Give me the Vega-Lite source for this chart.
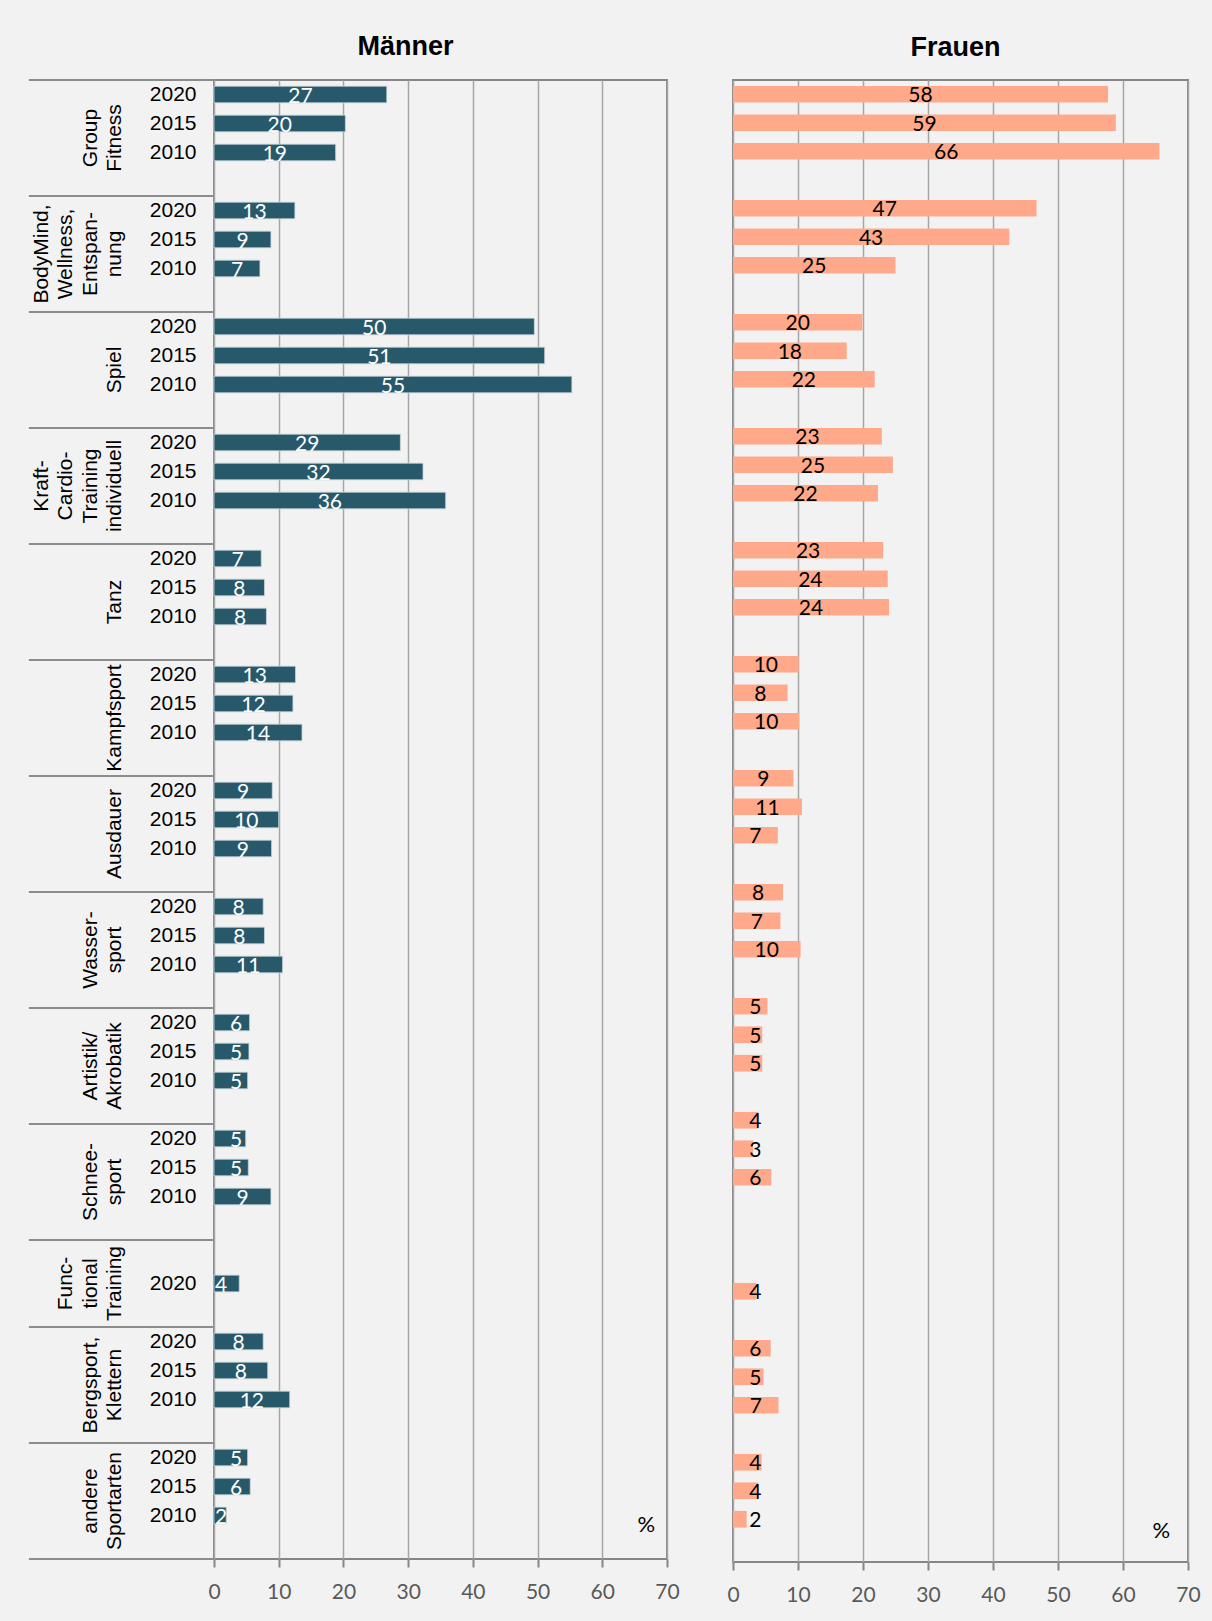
{
  "$schema": "https://vega.github.io/schema/vega-lite/v6.json",
  "background": "#f2f2f2",
  "autosize": {"type": "pad"},
  "padding": {"left": 26, "top": 31, "right": 12, "bottom": 22},
  "bounds": "flush",
  "spacing": 66,
  "datasets": {
    "maenner": [
      {"sport": "Group Fitness", "year": "2020", "slot": "GF 2020", "value": 26.7, "label": "27"},
      {"sport": "Group Fitness", "year": "2015", "slot": "GF 2015", "value": 20.3, "label": "20"},
      {"sport": "Group Fitness", "year": "2010", "slot": "GF 2010", "value": 18.8, "label": "19"},
      {"sport": "BodyMind, Wellness, Entspannung", "year": "2020", "slot": "BM 2020", "value": 12.5, "label": "13"},
      {"sport": "BodyMind, Wellness, Entspannung", "year": "2015", "slot": "BM 2015", "value": 8.8, "label": "9"},
      {"sport": "BodyMind, Wellness, Entspannung", "year": "2010", "slot": "BM 2010", "value": 7.1, "label": "7"},
      {"sport": "Spiel", "year": "2020", "slot": "SP 2020", "value": 49.5, "label": "50"},
      {"sport": "Spiel", "year": "2015", "slot": "SP 2015", "value": 51.1, "label": "51"},
      {"sport": "Spiel", "year": "2010", "slot": "SP 2010", "value": 55.3, "label": "55"},
      {"sport": "Kraft-Cardio-Training individuell", "year": "2020", "slot": "KC 2020", "value": 28.8, "label": "29"},
      {"sport": "Kraft-Cardio-Training individuell", "year": "2015", "slot": "KC 2015", "value": 32.3, "label": "32"},
      {"sport": "Kraft-Cardio-Training individuell", "year": "2010", "slot": "KC 2010", "value": 35.8, "label": "36"},
      {"sport": "Tanz", "year": "2020", "slot": "TZ 2020", "value": 7.3, "label": "7"},
      {"sport": "Tanz", "year": "2015", "slot": "TZ 2015", "value": 7.8, "label": "8"},
      {"sport": "Tanz", "year": "2010", "slot": "TZ 2010", "value": 8.1, "label": "8"},
      {"sport": "Kampfsport", "year": "2020", "slot": "KS 2020", "value": 12.6, "label": "13"},
      {"sport": "Kampfsport", "year": "2015", "slot": "KS 2015", "value": 12.2, "label": "12"},
      {"sport": "Kampfsport", "year": "2010", "slot": "KS 2010", "value": 13.6, "label": "14"},
      {"sport": "Ausdauer", "year": "2020", "slot": "AD 2020", "value": 9.0, "label": "9"},
      {"sport": "Ausdauer", "year": "2015", "slot": "AD 2015", "value": 10.0, "label": "10"},
      {"sport": "Ausdauer", "year": "2010", "slot": "AD 2010", "value": 8.9, "label": "9"},
      {"sport": "Wassersport", "year": "2020", "slot": "WS 2020", "value": 7.6, "label": "8"},
      {"sport": "Wassersport", "year": "2015", "slot": "WS 2015", "value": 7.8, "label": "8"},
      {"sport": "Wassersport", "year": "2010", "slot": "WS 2010", "value": 10.6, "label": "11"},
      {"sport": "Artistik/Akrobatik", "year": "2020", "slot": "AA 2020", "value": 5.5, "label": "6"},
      {"sport": "Artistik/Akrobatik", "year": "2015", "slot": "AA 2015", "value": 5.4, "label": "5"},
      {"sport": "Artistik/Akrobatik", "year": "2010", "slot": "AA 2010", "value": 5.2, "label": "5"},
      {"sport": "Schneesport", "year": "2020", "slot": "SS 2020", "value": 4.9, "label": "5"},
      {"sport": "Schneesport", "year": "2015", "slot": "SS 2015", "value": 5.3, "label": "5"},
      {"sport": "Schneesport", "year": "2010", "slot": "SS 2010", "value": 8.8, "label": "9"},
      {"sport": "Functional Training", "year": "2020", "slot": "FT 2020", "value": 3.9, "label": "4"},
      {"sport": "Bergsport, Klettern", "year": "2020", "slot": "BK 2020", "value": 7.6, "label": "8"},
      {"sport": "Bergsport, Klettern", "year": "2015", "slot": "BK 2015", "value": 8.3, "label": "8"},
      {"sport": "Bergsport, Klettern", "year": "2010", "slot": "BK 2010", "value": 11.7, "label": "12"},
      {"sport": "andere Sportarten", "year": "2020", "slot": "AN 2020", "value": 5.2, "label": "5"},
      {"sport": "andere Sportarten", "year": "2015", "slot": "AN 2015", "value": 5.6, "label": "6"},
      {"sport": "andere Sportarten", "year": "2010", "slot": "AN 2010", "value": 1.9, "label": "2"}
    ],
    "frauen": [
      {"sport": "Group Fitness", "year": "2020", "slot": "GF 2020", "value": 57.7, "label": "58"},
      {"sport": "Group Fitness", "year": "2015", "slot": "GF 2015", "value": 58.9, "label": "59"},
      {"sport": "Group Fitness", "year": "2010", "slot": "GF 2010", "value": 65.6, "label": "66"},
      {"sport": "BodyMind, Wellness, Entspannung", "year": "2020", "slot": "BM 2020", "value": 46.7, "label": "47"},
      {"sport": "BodyMind, Wellness, Entspannung", "year": "2015", "slot": "BM 2015", "value": 42.5, "label": "43"},
      {"sport": "BodyMind, Wellness, Entspannung", "year": "2010", "slot": "BM 2010", "value": 25.0, "label": "25"},
      {"sport": "Spiel", "year": "2020", "slot": "SP 2020", "value": 19.9, "label": "20"},
      {"sport": "Spiel", "year": "2015", "slot": "SP 2015", "value": 17.5, "label": "18"},
      {"sport": "Spiel", "year": "2010", "slot": "SP 2010", "value": 21.8, "label": "22"},
      {"sport": "Kraft-Cardio-Training individuell", "year": "2020", "slot": "KC 2020", "value": 22.9, "label": "23"},
      {"sport": "Kraft-Cardio-Training individuell", "year": "2015", "slot": "KC 2015", "value": 24.6, "label": "25"},
      {"sport": "Kraft-Cardio-Training individuell", "year": "2010", "slot": "KC 2010", "value": 22.3, "label": "22"},
      {"sport": "Tanz", "year": "2020", "slot": "TZ 2020", "value": 23.1, "label": "23"},
      {"sport": "Tanz", "year": "2015", "slot": "TZ 2015", "value": 23.8, "label": "24"},
      {"sport": "Tanz", "year": "2010", "slot": "TZ 2010", "value": 24.0, "label": "24"},
      {"sport": "Kampfsport", "year": "2020", "slot": "KS 2020", "value": 10.1, "label": "10"},
      {"sport": "Kampfsport", "year": "2015", "slot": "KS 2015", "value": 8.4, "label": "8"},
      {"sport": "Kampfsport", "year": "2010", "slot": "KS 2010", "value": 10.2, "label": "10"},
      {"sport": "Ausdauer", "year": "2020", "slot": "AD 2020", "value": 9.3, "label": "9"},
      {"sport": "Ausdauer", "year": "2015", "slot": "AD 2015", "value": 10.6, "label": "11"},
      {"sport": "Ausdauer", "year": "2010", "slot": "AD 2010", "value": 6.9, "label": "7"},
      {"sport": "Wassersport", "year": "2020", "slot": "WS 2020", "value": 7.7, "label": "8"},
      {"sport": "Wassersport", "year": "2015", "slot": "WS 2015", "value": 7.3, "label": "7"},
      {"sport": "Wassersport", "year": "2010", "slot": "WS 2010", "value": 10.4, "label": "10"},
      {"sport": "Artistik/Akrobatik", "year": "2020", "slot": "AA 2020", "value": 5.3, "label": "5"},
      {"sport": "Artistik/Akrobatik", "year": "2015", "slot": "AA 2015", "value": 4.5, "label": "5"},
      {"sport": "Artistik/Akrobatik", "year": "2010", "slot": "AA 2010", "value": 4.5, "label": "5"},
      {"sport": "Schneesport", "year": "2020", "slot": "SS 2020", "value": 3.9, "label": "4"},
      {"sport": "Schneesport", "year": "2015", "slot": "SS 2015", "value": 3.1, "label": "3"},
      {"sport": "Schneesport", "year": "2010", "slot": "SS 2010", "value": 5.9, "label": "6"},
      {"sport": "Functional Training", "year": "2020", "slot": "FT 2020", "value": 3.6, "label": "4"},
      {"sport": "Bergsport, Klettern", "year": "2020", "slot": "BK 2020", "value": 5.8, "label": "6"},
      {"sport": "Bergsport, Klettern", "year": "2015", "slot": "BK 2015", "value": 4.7, "label": "5"},
      {"sport": "Bergsport, Klettern", "year": "2010", "slot": "BK 2010", "value": 7.0, "label": "7"},
      {"sport": "andere Sportarten", "year": "2020", "slot": "AN 2020", "value": 4.4, "label": "4"},
      {"sport": "andere Sportarten", "year": "2015", "slot": "AN 2015", "value": 3.9, "label": "4"},
      {"sport": "andere Sportarten", "year": "2010", "slot": "AN 2010", "value": 2.1, "label": "2"}
    ],
    "groups": [
      {"name": "Group\nFitness", "start": "GF 2020", "mid": "GF 2015"},
      {"name": "BodyMind,\nWellness,\nEntspan-\nnung", "start": "BM 2020", "mid": "BM 2015"},
      {"name": "Spiel", "start": "SP 2020", "mid": "SP 2015"},
      {"name": "Kraft-\nCardio-\nTraining\nindividuell", "start": "KC 2020", "mid": "KC 2015"},
      {"name": "Tanz", "start": "TZ 2020", "mid": "TZ 2015"},
      {"name": "Kampfsport", "start": "KS 2020", "mid": "KS 2015"},
      {"name": "Ausdauer", "start": "AD 2020", "mid": "AD 2015"},
      {"name": "Wasser-\nsport", "start": "WS 2020", "mid": "WS 2015"},
      {"name": "Artistik/\nAkrobatik", "start": "AA 2020", "mid": "AA 2015"},
      {"name": "Schnee-\nsport", "start": "SS 2020", "mid": "SS 2015"},
      {"name": "Func-\ntional\nTraining", "start": "FT _1", "mid": "FT 2020"},
      {"name": "Bergsport,\nKlettern", "start": "BK 2020", "mid": "BK 2015"},
      {"name": "andere\nSportarten", "start": "AN 2020", "mid": "AN 2015"}
    ]
  },
  "config": {
    "view": {"stroke": "#868686", "strokeWidth": 2},
    "axis": {"gridColor": "#a6a6a6", "gridWidth": 1.5}
  },
  "hconcat": [
    {
      "width": 453,
      "height": 1479,
      "title": {"text": "Männer", "font": "Liberation Sans", "fontSize": 27, "fontWeight": "bold", "color": "#000000", "anchor": "middle", "frame": "group", "dx": -35, "offset": -3, "baseline": "alphabetic"},
      "encoding": {
        "y": {
          "field": "slot", "type": "nominal",
          "scale": {
            "domain": ["GF 2020", "GF 2015", "GF 2010", "GF _", "BM 2020", "BM 2015", "BM 2010", "BM _", "SP 2020", "SP 2015", "SP 2010", "SP _", "KC 2020", "KC 2015", "KC 2010", "KC _", "TZ 2020", "TZ 2015", "TZ 2010", "TZ _", "KS 2020", "KS 2015", "KS 2010", "KS _", "AD 2020", "AD 2015", "AD 2010", "AD _", "WS 2020", "WS 2015", "WS 2010", "WS _", "AA 2020", "AA 2015", "AA 2010", "AA _", "SS 2020", "SS 2015", "SS 2010", "SS _", "FT _1", "FT 2020", "FT _2", "BK 2020", "BK 2015", "BK 2010", "BK _", "AN 2020", "AN 2015", "AN 2010", "AN _"],
            "paddingInner": 0.425, "paddingOuter": 0.2125
          },
          "axis": {"title": null, "ticks": false, "domain": false, "grid": false, "labelExpr": "indexof(datum.value, '_') >= 0 ? '' : slice(datum.value, -4)", "labelFont": "Liberation Sans", "labelFontSize": 21, "labelColor": "#000000", "labelPadding": 18, "labelOverlap": false}
        }
      },
      "layer": [
        {
          "data": {"name": "groups"},
          "mark": {"type": "rule", "color": "#8c8c8c", "strokeWidth": 2},
          "encoding": {
            "y": {"field": "start", "type": "nominal", "bandPosition": -0.3696},
            "x": {"datum": -28.61, "type": "quantitative"},
            "x2": {"datum": 0}
          }
        },
        {
          "data": {"values": [{"start": "AN _"}]},
          "mark": {"type": "rule", "color": "#8c8c8c", "strokeWidth": 2},
          "encoding": {
            "y": {"field": "start", "type": "nominal", "bandPosition": 1.3696},
            "x": {"datum": -28.61, "type": "quantitative"},
            "x2": {"datum": 0}
          }
        },
        {
          "data": {"name": "maenner"},
          "mark": {"type": "bar", "color": "#27596b", "stroke": "#c9d6db", "strokeWidth": 0.8},
          "encoding": {
            "x": {
              "field": "value", "type": "quantitative",
              "scale": {"domain": [0, 70], "nice": false, "zero": true},
              "axis": {"values": [0, 10, 20, 30, 40, 50, 60, 70], "title": null, "grid": true, "domain": false, "tickColor": "#868686", "tickWidth": 2, "tickSize": 8, "labelFont": "Lato", "labelFontSize": 21, "labelColor": "#595959", "labelPadding": 14, "labelFlush": false, "labelOverlap": false}
            }
          }
        },
        {
          "data": {"name": "maenner"},
          "transform": [{"calculate": "datum.value < 4 ? 1.1 : max(datum.value / 2, 3.4)", "as": "pos"}],
          "mark": {"type": "text", "font": "Lato", "fontSize": 21, "color": "#ffffff", "align": "center", "baseline": "middle", "dy": 2},
          "encoding": {
            "x": {"field": "pos", "type": "quantitative"},
            "text": {"field": "label"}
          }
        },
        {
          "data": {"name": "groups"},
          "transform": [{"filter": "length(split(datum.name, '\\n')) == 1"}],
          "mark": {"type": "text", "angle": 270, "align": "center", "baseline": "bottom", "dy": -89, "lineBreak": "\n", "lineHeight": 24.5, "font": "Liberation Sans", "fontSize": 21, "color": "#000000"},
          "encoding": {
            "y": {"field": "mid", "type": "nominal", "bandPosition": 1.3696},
            "x": {"datum": 0, "type": "quantitative"},
            "text": {"field": "name"}
          }
        },
        {
          "data": {"name": "groups"},
          "transform": [{"filter": "length(split(datum.name, '\\n')) == 2"}],
          "mark": {"type": "text", "angle": 270, "align": "center", "baseline": "bottom", "dy": -113.5, "lineBreak": "\n", "lineHeight": 24.5, "font": "Liberation Sans", "fontSize": 21, "color": "#000000"},
          "encoding": {
            "y": {"field": "mid", "type": "nominal", "bandPosition": 1.3696},
            "x": {"datum": 0, "type": "quantitative"},
            "text": {"field": "name"}
          }
        },
        {
          "data": {"name": "groups"},
          "transform": [{"filter": "length(split(datum.name, '\\n')) == 4"}],
          "mark": {"type": "text", "angle": 270, "align": "center", "baseline": "bottom", "dy": -162.5, "lineBreak": "\n", "lineHeight": 24.5, "font": "Liberation Sans", "fontSize": 21, "color": "#000000"},
          "encoding": {
            "y": {"field": "mid", "type": "nominal", "bandPosition": 1.3696},
            "x": {"datum": 0, "type": "quantitative"},
            "text": {"field": "name"}
          }
        },
        {
          "data": {"name": "groups"},
          "transform": [{"filter": "length(split(datum.name, '\\n')) == 3"}],
          "mark": {"type": "text", "angle": 270, "align": "center", "baseline": "bottom", "dy": -138, "lineBreak": "\n", "lineHeight": 24.5, "font": "Liberation Sans", "fontSize": 21, "color": "#000000"},
          "encoding": {
            "y": {"field": "mid", "type": "nominal", "bandPosition": 0.5},
            "x": {"datum": 0, "type": "quantitative"},
            "text": {"field": "name"}
          }
        },
        {
          "data": {"values": [{"slot": "AN 2010", "unit": "%"}]},
          "mark": {"type": "text", "font": "Lato", "fontSize": 22, "color": "#000000", "align": "center", "baseline": "middle"},
          "encoding": {
            "y": {"field": "slot", "type": "nominal", "bandPosition": 1.07},
            "x": {"datum": 66.8, "type": "quantitative"},
            "text": {"field": "unit"}
          }
        }
      ]
    },
    {
      "width": 455,
      "height": 1482,
      "title": {"text": "Frauen", "font": "Liberation Sans", "fontSize": 27, "fontWeight": "bold", "color": "#000000", "anchor": "middle", "frame": "group", "dx": -5, "offset": -3, "baseline": "alphabetic"},
      "encoding": {
        "y": {
          "field": "slot", "type": "nominal",
          "scale": {
            "domain": ["GF 2020", "GF 2015", "GF 2010", "GF _", "BM 2020", "BM 2015", "BM 2010", "BM _", "SP 2020", "SP 2015", "SP 2010", "SP _", "KC 2020", "KC 2015", "KC 2010", "KC _", "TZ 2020", "TZ 2015", "TZ 2010", "TZ _", "KS 2020", "KS 2015", "KS 2010", "KS _", "AD 2020", "AD 2015", "AD 2010", "AD _", "WS 2020", "WS 2015", "WS 2010", "WS _", "AA 2020", "AA 2015", "AA 2010", "AA _", "SS 2020", "SS 2015", "SS 2010", "SS _", "FT _1", "FT _2", "FT 2020", "FT _3", "BK 2020", "BK 2015", "BK 2010", "BK _", "AN 2020", "AN 2015", "AN 2010", "AN _"],
            "paddingInner": 0.415, "paddingOuter": 0.2075
          },
          "axis": null
        }
      },
      "layer": [
        {
          "data": {"name": "frauen"},
          "mark": {"type": "bar", "color": "#ffa98a"},
          "encoding": {
            "x": {
              "field": "value", "type": "quantitative",
              "scale": {"domain": [0, 70], "nice": false, "zero": true},
              "axis": {"values": [0, 10, 20, 30, 40, 50, 60, 70], "title": null, "grid": true, "domain": false, "tickColor": "#868686", "tickWidth": 2, "tickSize": 8, "labelFont": "Lato", "labelFontSize": 21, "labelColor": "#595959", "labelPadding": 14, "labelFlush": false, "labelOverlap": false}
            }
          }
        },
        {
          "data": {"name": "frauen"},
          "transform": [{"calculate": "max(datum.value / 2, 3.42)", "as": "pos"}],
          "mark": {"type": "text", "font": "Lato", "fontSize": 21, "color": "#000000", "align": "center", "baseline": "middle", "dy": 2},
          "encoding": {
            "x": {"field": "pos", "type": "quantitative"},
            "text": {"field": "label"}
          }
        },
        {
          "data": {"values": [{"slot": "AN 2010", "unit": "%"}]},
          "mark": {"type": "text", "font": "Lato", "fontSize": 22, "color": "#000000", "align": "center", "baseline": "middle"},
          "encoding": {
            "y": {"field": "slot", "type": "nominal", "bandPosition": 1.2},
            "x": {"datum": 65.9, "type": "quantitative"},
            "text": {"field": "unit"}
          }
        }
      ]
    }
  ]
}
